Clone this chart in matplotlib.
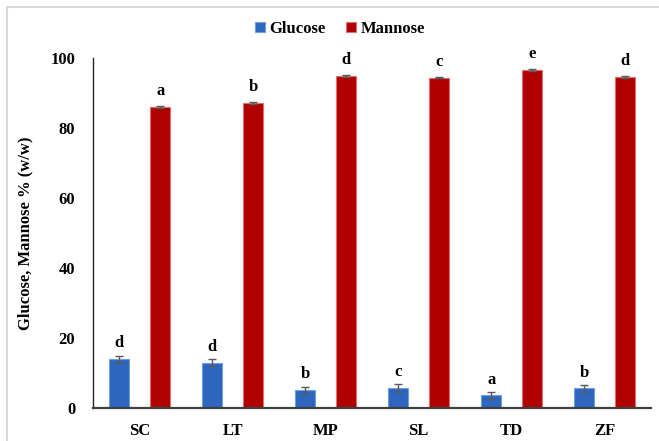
import matplotlib
matplotlib.use("Agg")
import matplotlib.pyplot as plt
import numpy as np
from matplotlib.lines import Line2D

plt.rcParams['font.family'] = ['Liberation Serif', 'DejaVu Serif']
plt.rcParams['font.weight'] = 'bold'

categories = ["SC", "LT", "MP", "SL", "TD", "ZF"]
glucose = [13.9, 12.9, 5.1, 5.7, 3.6, 5.6]
glucose_err = [1.1, 1.0, 1.0, 1.1, 1.0, 0.9]
glucose_letters = ["d", "d", "b", "c", "a", "b"]
mannose = [86.1, 87.2, 94.9, 94.4, 96.6, 94.6]
mannose_err = [0.3, 0.2, 0.2, 0.2, 0.3, 0.2]
mannose_letters = ["a", "b", "d", "c", "e", "d"]

W, H = 659, 441
fig = plt.figure(figsize=(W / 100, H / 100), dpi=100)
ax = fig.add_axes([93.3 / W, 1 - 408 / H, (651 - 93.3) / W, (408 - 58) / H])

x = np.arange(len(categories))
bw = 0.215
off = 0.22
blue, blue_edge = "#2E66BF", "#6F9FE0"
red, red_edge = "#B00000", "#E07070"

ax.bar(x - off, glucose, bw, color=blue, edgecolor=blue_edge, linewidth=0.8,
       yerr=glucose_err, error_kw=dict(ecolor="#595959", elinewidth=1, capsize=3, capthick=1),
       label="Glucose", zorder=2)
ax.bar(x + off, mannose, bw, color=red, edgecolor=red_edge, linewidth=0.8,
       yerr=mannose_err, error_kw=dict(ecolor="#595959", elinewidth=1, capsize=3, capthick=1),
       label="Mannose", zorder=2)

for xi, v, e, t in zip(x, glucose, glucose_err, glucose_letters):
    ax.annotate(t, (xi - off, v + e), xytext=(0, 3), textcoords="offset points",
                ha="center", va="bottom", fontsize=12, fontweight="bold")
for xi, v, e, t in zip(x, mannose, mannose_err, mannose_letters):
    ax.annotate(t, (xi + off, v + e), xytext=(0, 5), textcoords="offset points",
                ha="center", va="bottom", fontsize=12, fontweight="bold")

ax.set_xlim(-0.5, len(categories) - 0.5)
ax.set_ylim(0, 100)
ax.set_yticks([0, 20, 40, 60, 80, 100])
ax.set_xticks(x)
ax.set_xticklabels(categories)
ax.tick_params(axis="both", length=0, labelsize=12)
ax.tick_params(axis="y", pad=13)
ax.tick_params(axis="x", pad=11)
for lab in ax.get_xticklabels() + ax.get_yticklabels():
    lab.set_fontweight("bold")

for s in ("top", "right"):
    ax.spines[s].set_visible(False)
ax.spines["left"].set_color("#262626")
ax.spines["left"].set_linewidth(1.0)
ax.spines["bottom"].set_color("#404040")
ax.spines["bottom"].set_linewidth(1.6)

ax.set_ylabel("Glucose, Mannose % (w/w)", fontsize=12, fontweight="bold")
ax.yaxis.set_label_coords((33 - 93.3) / 557.7, 0.5)

fig.legend(loc="center", bbox_to_anchor=(340 / W, 1 - 29 / H), ncol=2, frameon=False,
           prop=dict(size=12, weight="bold"), handlelength=0.6, handleheight=0.6,
           handletextpad=0.3, columnspacing=1.2)

# light frame along the top and left edges of the figure
fig.add_artist(Line2D([7 / W, 1], [1 - 7 / H, 1 - 7 / H], transform=fig.transFigure,
                      color="#d9d9d9", linewidth=1.5))
fig.add_artist(Line2D([7 / W, 7 / W], [0, 1 - 7 / H], transform=fig.transFigure,
                      color="#d9d9d9", linewidth=1.5))

fig.savefig("out.png", dpi=100)
